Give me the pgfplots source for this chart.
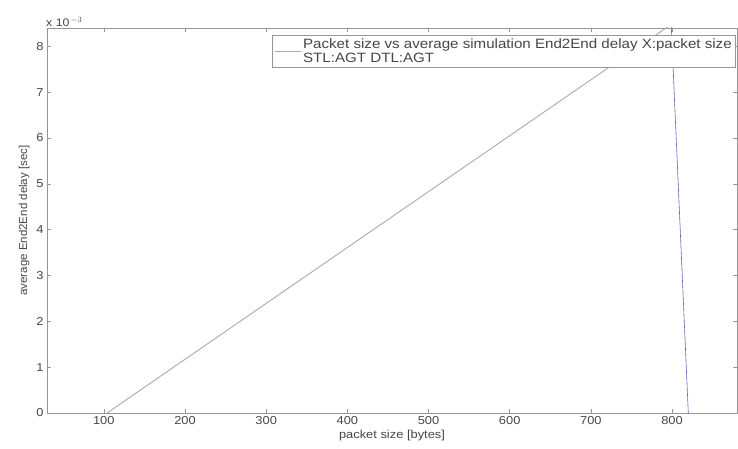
\documentclass[border=0pt]{standalone}
\usepackage{fontspec}
\setmainfont{Liberation Sans}[FakeStretch=1.12]
\newfontfamily\plainfont{Liberation Sans}
\usepackage{pgfplots}
\pgfplotsset{compat=1.18}
\definecolor{axgray}{RGB}{150,150,150}
\definecolor{txtgray}{RGB}{70,70,70}
\definecolor{linegray}{RGB}{170,170,170}
\definecolor{lineblue}{RGB}{100,100,180}

\begin{document}
\begin{tikzpicture}
\begin{axis}[
  scale only axis, width=690pt, height=385pt,
  xmin=30, xmax=880, ymin=0, ymax=8.4e-3,
  xtick={100,200,300,400,500,600,700,800},
  ytick={0,0.001,0.002,0.003,0.004,0.005,0.006,0.007,0.008},
  scaled y ticks=base 10:3,
  ytick scale label code/.code={x 10$^{\,#1}$},
  every y tick scale label/.style={at={(rel axis cs:0,1)}, anchor=south west, inner sep=1pt, xshift=-2pt, font=\fontsize{11}{12}\selectfont, text=txtgray},
  /pgf/number format/assume math mode=true,
  tick label style={font=\fontsize{11.5}{12}\selectfont, text=txtgray},
  axis line style={axgray, line width=0.9pt},
  every tick/.style={axgray, line width=0.5pt},
  tick align=inside, major tick length=4pt,
  xlabel={packet size [bytes]},
  ylabel={\plainfont average End2End delay [sec]},
  label style={font=\fontsize{11.5}{12}\selectfont, text=txtgray},
  xlabel style={yshift=1pt},
  legend style={at={(rel axis cs:0.998,0.982)}, anchor=north east, draw=axgray, fill=white, line width=0.7pt,
    font=\fontsize{13.5}{13.5}\selectfont, text=txtgray, inner sep=1.5pt, cells={align=left}},
  legend cell align=left,
  legend image code/.code={\draw[#1] (0pt,0pt) -- (26pt,0pt);},
  clip=true,
]
\addplot[linegray, line width=0.9pt] coordinates {(104,0) (800,0.00849)};
\addlegendentry{Packet size vs average simulation End2End delay X:packet size\\ STL:AGT DTL:AGT}
\addplot[lineblue, line width=0.6pt, forget plot] coordinates {(799,0.00845) (820,0)};
\end{axis}
\path (current axis.south west) ++(-47pt,-35pt);
\path (current axis.north east) ++(1pt,28pt);
\end{tikzpicture}
\end{document}
